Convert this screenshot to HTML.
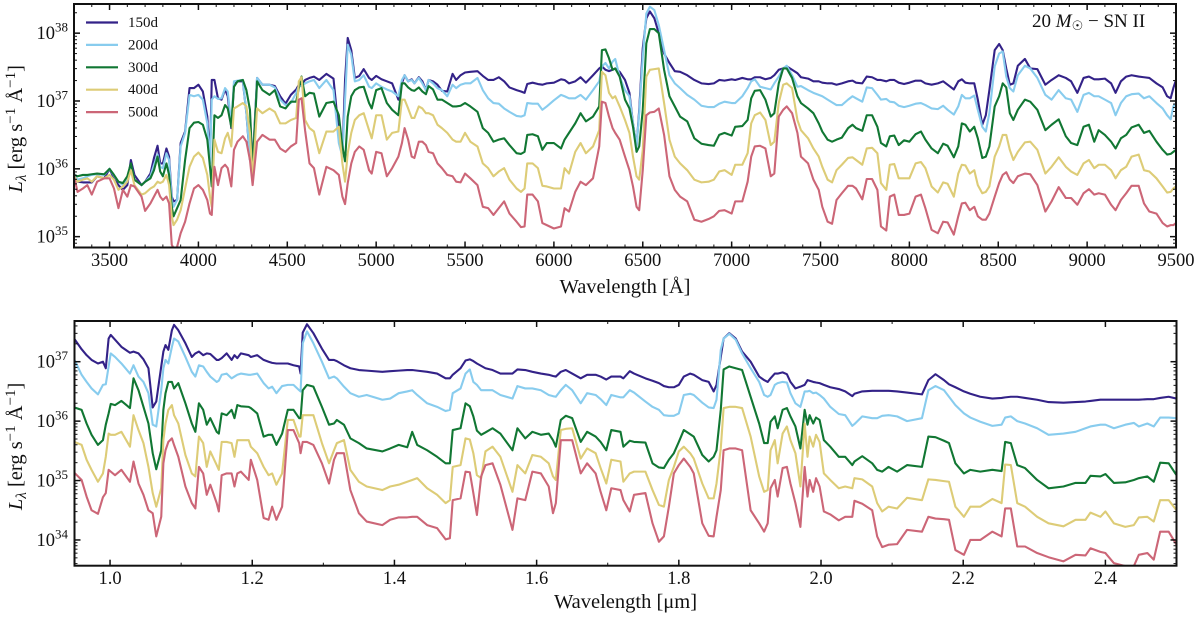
<!DOCTYPE html>
<html lang="en">
<head>
<meta charset="utf-8">
<title>20 Msun SN II spectra</title>
<style>
html,body{margin:0;padding:0;background:#fff;width:1200px;height:619px;overflow:hidden}
svg{display:block;font-family:"Liberation Serif","DejaVu Serif",serif;fill:#111}
</style>
</head>
<body>
<svg id="chart" xmlns="http://www.w3.org/2000/svg" width="1200" height="619" viewBox="0 0 1200 619">
<defs>
<clipPath id="clip-top"><rect x="74" y="4" width="1102" height="243.5"/></clipPath>
<clipPath id="clip-bottom"><rect x="74.5" y="321" width="1102" height="244.7"/></clipPath>
</defs>
</svg>
<script>
const seriesNames = ['150d','200d','300d','400d','500d'];
const seriesColors = ['#332288','#88CCEE','#117733','#DDCC77','#CC6677'];
const xTicksTop = [3500,4000,4500,5000,5500,6000,6500,7000,7500,8000,8500,9000,9500];
const xTicksBottom = [1.0,1.2,1.4,1.6,1.8,2.0,2.2,2.4];
const yDecadesTop = [35,36,37,38];
const yDecadesBottom = [34,35,36,37];

const waveTop = [
3300,3320,3350,3375,3400,3430,3470,3500,3525,3550,3575,3600,3620,3640,3680,3700,3730,3750,3770,3785,
3800,3820,3835,3850,3860,3880,3900,3925,3950,3975,4000,4025,4050,4065,4075,4090,4110,4130,4150,4165,
4185,4200,4220,4250,4270,4290,4305,4330,4360,4400,4430,4460,4490,4520,4550,4565,4580,4600,4625,4650,
4680,4720,4760,4790,4810,4825,4840,4860,4880,4905,4930,4960,4975,5000,5030,5060,5090,5125,5145,5160,
5180,5200,5215,5240,5260,5280,5295,5320,5345,5370,5400,5430,5450,5475,5500,5530,5570,5600,5630,5660,
5690,5720,5750,5790,5815,5835,5850,5880,5910,5935,5960,6000,6040,6060,6085,6120,6150,6180,6220,6255,
6270,6290,6310,6330,6345,6370,6400,6425,6445,6465,6480,6500,6520,6540,6565,6590,6620,6650,6680,6710,
6750,6790,6830,6870,6900,6930,6960,7000,7020,7060,7090,7110,7130,7160,7190,7220,7240,7265,7290,7310,
7340,7370,7390,7430,7460,7490,7510,7540,7565,7590,7620,7655,7680,7700,7735,7760,7790,7820,7840,7870,
7890,7915,7940,7970,8000,8035,8065,8090,8125,8160,8190,8215,8250,8275,8295,8315,8340,8365,8385,8410,
8430,8450,8480,8505,8525,8545,8565,8585,8610,8650,8680,8720,8765,8800,8840,8880,8910,8945,8980,9010,
9040,9065,9100,9135,9160,9190,9220,9250,9290,9320,9350,9390,9425,9450,9470,9485,9500];

const logTop150 = [
35.93,35.81,35.80,35.80,35.80,35.89,35.86,36.00,35.86,35.76,35.69,35.76,36.13,35.91,35.76,35.81,35.93,36.16,36.34,36.08,
36.08,36.30,36.18,35.59,35.52,35.54,36.38,36.55,37.19,37.19,37.24,37.14,36.77,36.13,37.31,37.31,37.04,37.02,37.17,37.07,
36.60,37.24,37.29,37.29,36.82,36.13,36.08,37.34,37.24,37.24,37.22,37.07,36.96,37.09,37.17,37.24,37.24,37.31,37.34,37.36,
37.31,37.40,37.33,36.53,36.18,37.31,37.93,37.75,37.34,37.37,37.47,37.34,37.31,37.37,37.32,37.29,37.26,37.02,37.26,37.38,
37.29,37.32,37.26,37.35,37.29,37.16,37.31,37.29,37.24,37.15,37.14,37.40,37.31,37.38,37.42,37.43,37.44,37.37,37.31,37.31,
37.35,37.29,37.20,37.16,37.14,37.12,37.25,37.27,37.25,37.24,37.26,37.27,37.32,37.31,37.26,37.29,37.35,37.27,37.38,37.48,
37.51,37.46,37.44,37.46,37.48,37.43,37.31,37.12,36.67,36.33,36.87,37.78,38.22,38.32,38.22,38.00,37.70,37.56,37.44,37.43,
37.38,37.31,37.26,37.25,37.26,37.31,37.30,37.32,37.31,37.34,37.32,37.32,37.35,37.35,37.32,37.34,37.38,37.46,37.48,37.51,
37.46,37.41,37.35,37.33,37.29,37.29,37.27,37.26,37.26,37.24,37.26,37.29,37.30,37.27,37.26,37.36,37.35,37.31,37.31,37.29,
37.31,37.31,37.27,37.25,37.27,37.30,37.30,37.26,37.24,37.26,37.29,37.24,37.17,37.29,37.32,37.27,37.26,37.26,37.02,36.65,
36.79,37.16,37.75,37.84,37.75,37.48,37.24,37.26,37.52,37.62,37.48,37.47,37.24,37.31,37.38,37.34,37.29,37.12,37.34,37.36,
37.32,37.32,37.33,37.26,37.12,37.29,37.36,37.38,37.36,37.35,37.34,37.26,37.20,37.07,37.04,37.19,37.31];

const logTop200 = [
35.91,35.84,35.86,35.89,35.91,35.92,35.91,36.00,35.90,35.81,35.76,35.84,36.06,35.84,35.76,35.81,35.89,36.06,36.21,36.03,
36.01,36.23,36.13,35.54,35.44,35.54,36.33,36.53,37.09,37.07,37.09,37.02,36.67,36.08,37.02,37.07,37.03,37.04,37.19,37.14,
36.65,37.29,37.30,37.31,36.82,36.18,35.98,37.34,37.24,37.24,37.20,37.02,36.94,36.97,37.12,37.22,37.22,37.26,37.29,37.31,
37.19,37.31,37.16,36.38,36.18,37.02,37.83,37.68,37.29,37.31,37.38,37.21,37.19,37.26,37.21,37.17,37.14,37.07,37.31,37.38,
37.29,37.31,37.26,37.34,37.26,37.16,37.31,37.26,37.19,37.16,37.07,37.24,37.19,37.24,37.26,37.26,37.34,37.16,37.04,36.97,
36.96,36.89,36.84,36.78,36.77,36.79,36.97,36.96,36.96,36.87,36.92,37.01,37.09,37.07,37.04,37.04,37.09,37.02,37.16,37.29,
37.51,37.56,37.48,37.58,37.62,37.36,37.16,37.07,36.67,36.33,36.82,37.65,38.29,38.39,38.34,38.12,37.75,37.38,37.26,37.19,
37.09,37.02,36.93,36.91,36.91,36.96,36.99,36.97,36.97,37.07,37.19,37.29,37.32,37.21,37.19,37.17,37.26,37.36,37.48,37.52,
37.38,37.21,37.22,37.16,37.12,37.09,37.07,37.02,36.98,36.94,36.94,37.02,37.07,37.04,36.99,37.20,37.19,37.09,37.02,37.03,
36.99,36.98,36.93,36.91,36.93,36.96,36.97,36.94,36.89,36.88,36.93,36.87,36.80,36.92,37.09,37.04,37.04,37.08,36.87,36.62,
36.55,36.82,37.51,37.70,37.73,37.36,37.19,37.14,37.38,37.52,37.48,37.34,37.09,37.02,37.16,37.04,37.02,36.84,37.09,37.12,
37.07,37.07,37.02,36.97,36.79,36.97,37.07,37.10,37.11,37.04,37.07,36.97,36.89,36.79,36.73,36.92,36.97];

const logTop300 = [
35.91,35.89,35.91,35.91,35.92,35.93,35.92,36.00,35.91,35.81,35.79,35.89,36.08,35.84,35.76,35.81,35.86,35.98,36.18,35.96,
35.89,36.08,35.91,35.44,35.30,35.42,35.54,36.13,36.60,36.68,36.69,36.65,36.43,36.03,35.74,36.79,36.75,36.79,36.94,36.89,
36.62,37.21,37.29,37.31,37.16,36.87,35.98,37.29,37.16,37.09,37.16,36.92,36.89,36.99,36.99,37.19,37.36,37.07,37.12,37.11,
36.77,36.97,36.99,36.79,36.33,36.11,36.77,37.07,37.16,37.20,37.21,36.97,36.89,37.16,37.19,36.97,36.87,36.79,37.26,37.26,
37.20,37.16,37.15,37.20,37.14,37.10,37.22,37.17,37.02,37.02,36.97,36.92,36.92,36.93,36.97,36.92,36.84,36.60,36.53,36.40,
36.43,36.45,36.35,36.23,36.22,36.25,36.50,36.51,36.48,36.28,36.38,36.38,36.30,36.43,36.53,36.67,36.82,36.70,36.77,36.92,
37.75,37.76,37.63,37.46,37.48,37.36,37.02,36.89,36.62,36.25,36.33,36.87,37.85,38.06,38.06,38.00,37.46,37.07,36.92,36.77,
36.70,36.45,36.37,36.35,36.34,36.50,36.53,36.49,36.62,36.63,36.72,37.04,37.15,37.16,37.02,36.77,36.82,37.26,37.48,37.48,
37.34,37.07,36.97,36.89,36.82,36.67,36.55,36.43,36.40,36.43,36.46,36.60,36.65,36.60,36.56,36.79,36.79,36.62,36.38,36.33,
36.48,36.49,36.35,36.42,36.40,36.51,36.55,36.43,36.30,36.23,36.37,36.34,36.17,36.33,36.67,36.65,36.55,36.62,36.45,36.16,
36.18,36.33,36.92,37.07,37.26,37.20,36.82,36.72,36.87,37.02,36.99,36.87,36.57,36.65,36.73,36.48,36.38,36.35,36.62,36.65,
36.40,36.57,36.50,36.40,36.30,36.45,36.50,36.61,36.65,36.53,36.56,36.40,36.28,36.21,36.22,36.25,36.28];

const logTop400 = [
35.89,35.81,35.84,35.86,35.81,35.89,35.86,35.91,35.84,35.69,35.74,35.81,35.98,35.76,35.62,35.64,35.71,35.74,35.81,35.79,
35.81,35.91,35.76,35.30,35.17,35.25,35.39,35.71,36.03,36.18,36.24,36.16,35.91,35.59,35.44,36.43,36.25,36.23,36.45,36.53,
36.33,36.89,36.92,36.97,36.92,36.53,35.84,36.89,36.82,36.89,36.84,36.67,36.67,36.72,36.75,37.29,37.35,36.72,36.60,36.55,
36.23,36.55,36.55,36.62,36.08,35.81,36.23,36.53,36.72,36.79,36.82,36.57,36.45,36.79,36.79,36.43,36.53,36.55,37.02,37.02,
36.89,36.75,36.75,36.92,36.89,36.82,36.82,36.79,36.65,36.60,36.53,36.43,36.40,36.40,36.53,36.40,36.33,36.08,36.01,35.89,
35.96,36.01,35.84,35.71,35.66,35.71,36.08,36.08,36.01,35.75,35.74,35.71,35.71,36.01,35.93,36.25,36.38,36.23,36.33,36.57,
37.43,37.38,37.12,37.04,37.07,36.92,36.72,36.53,36.18,35.89,35.84,36.28,37.36,37.46,37.47,37.48,36.97,36.43,36.18,36.08,
35.98,35.84,35.80,35.81,35.84,35.96,35.98,35.91,36.06,36.06,36.23,36.67,36.79,36.83,36.72,36.35,36.40,36.97,37.24,37.26,
37.19,36.72,36.57,36.45,36.30,36.18,36.03,35.84,35.80,35.98,36.06,36.16,36.17,36.13,36.06,36.30,36.31,36.23,35.79,35.69,
36.06,36.07,35.86,35.86,35.86,36.08,36.10,36.01,35.74,35.65,35.80,35.78,35.59,35.93,36.06,36.05,35.93,35.98,35.76,35.64,
35.66,35.74,36.18,36.33,36.50,36.50,36.28,36.13,36.25,36.39,36.40,36.28,35.93,36.03,36.17,36.03,35.96,35.91,36.08,36.13,
36.01,36.06,36.06,35.98,35.86,35.98,36.03,36.18,36.21,35.98,35.96,35.86,35.74,35.65,35.66,35.71,35.74];

const logTop500 = [
35.89,35.66,35.71,35.76,35.62,35.81,35.86,35.86,35.71,35.42,35.69,35.59,35.76,35.74,35.59,35.38,35.49,35.59,35.69,35.59,
35.54,35.59,35.49,34.88,34.83,34.85,35.05,35.22,35.49,35.71,35.76,35.69,35.54,35.34,35.32,36.03,35.76,36.01,36.06,36.01,
35.74,36.28,36.40,36.48,36.40,36.13,35.76,36.40,36.50,36.43,36.43,36.30,36.25,36.33,36.38,37.02,37.04,36.57,36.08,36.01,
35.62,36.03,35.98,35.91,35.59,35.48,35.79,36.08,36.25,36.33,36.28,35.98,35.93,36.25,36.23,35.89,36.01,36.18,36.38,36.60,
36.43,36.18,36.16,36.40,36.40,36.35,36.25,36.23,36.08,36.01,35.91,35.89,35.81,35.80,35.93,35.86,35.76,35.44,35.42,35.32,
35.42,35.52,35.34,35.22,35.14,35.15,35.62,35.62,35.52,35.20,35.17,35.12,35.15,35.42,35.37,35.66,35.81,35.76,35.86,36.33,
36.99,36.97,36.77,36.60,36.53,36.43,36.18,35.98,35.74,35.44,35.39,35.98,36.79,36.83,36.84,36.89,36.50,35.89,35.69,35.59,
35.52,35.25,35.22,35.26,35.30,35.38,35.39,35.34,35.52,35.52,35.81,36.18,36.33,36.34,36.30,35.89,35.93,36.77,36.87,36.92,
36.82,36.53,36.18,36.08,35.84,35.69,35.44,35.22,35.19,35.54,35.64,35.75,35.75,35.71,35.55,35.85,35.85,35.69,35.15,35.09,
35.59,35.62,35.32,35.32,35.34,35.59,35.62,35.42,35.10,35.05,35.22,35.21,35.03,35.30,35.49,35.50,35.39,35.44,35.30,35.25,
35.25,35.34,35.59,35.79,35.91,35.95,35.84,35.79,35.89,35.93,35.92,35.76,35.37,35.52,35.73,35.57,35.57,35.47,35.64,35.70,
35.62,35.64,35.62,35.47,35.39,35.54,35.64,35.75,35.75,35.49,35.37,35.34,35.20,35.15,35.17,35.17,35.20];

const waveBottom = [
0.950,0.960,0.967,0.974,0.983,0.990,0.994,0.998,1.001,1.007,1.016,1.028,1.033,1.040,1.047,1.054,1.060,1.065,1.072,1.075,
1.078,1.082,1.087,1.090,1.096,1.106,1.115,1.120,1.125,1.131,1.136,1.141,1.150,1.153,1.157,1.164,1.171,1.175,1.179,1.184,
1.195,1.198,1.207,1.216,1.223,1.228,1.234,1.242,1.250,1.258,1.266,1.268,1.271,1.277,1.286,1.298,1.308,1.315,1.319,1.329,
1.338,1.350,1.361,1.383,1.394,1.406,1.418,1.425,1.432,1.446,1.460,1.472,1.478,1.482,1.493,1.500,1.506,1.511,1.516,1.522,
1.528,1.538,1.549,1.566,1.573,1.584,1.594,1.606,1.617,1.623,1.627,1.634,1.641,1.650,1.662,1.671,1.683,1.690,1.698,1.705,
1.718,1.722,1.731,1.737,1.753,1.763,1.772,1.779,1.786,1.793,1.800,1.807,1.816,1.821,1.833,1.842,1.849,1.853,1.859,1.863,
1.871,1.880,1.889,1.901,1.913,1.920,1.925,1.929,1.935,1.939,1.946,1.952,1.957,1.964,1.971,1.977,1.981,1.984,1.989,1.993,
1.998,2.004,2.013,2.025,2.034,2.044,2.047,2.058,2.072,2.079,2.086,2.095,2.107,2.121,2.142,2.151,2.161,2.173,2.180,2.189,
2.201,2.210,2.224,2.241,2.254,2.259,2.267,2.276,2.287,2.304,2.320,2.341,2.358,2.372,2.379,2.393,2.400,2.412,2.428,2.440,
2.447,2.459,2.468,2.477,2.489,2.500];

const logBottom150 = [
37.38,37.21,37.11,37.03,36.97,37.00,36.89,37.39,37.45,37.37,37.25,37.15,37.17,37.14,37.04,36.89,36.23,36.33,36.92,37.17,
37.28,37.20,37.53,37.62,37.53,37.31,37.08,37.14,37.17,37.11,37.14,37.13,37.03,37.03,37.06,37.14,37.03,37.11,37.06,37.14,
37.11,37.08,37.11,37.03,37.00,36.98,36.97,36.97,36.97,36.94,36.92,36.80,37.49,37.63,37.48,37.22,37.03,37.03,37.01,36.94,
36.89,36.86,36.85,36.83,36.84,36.85,36.86,36.86,36.85,36.83,36.80,36.72,36.72,36.78,36.89,37.02,37.04,37.01,36.97,36.93,
36.89,36.86,36.80,36.80,36.87,36.86,36.83,36.80,36.78,36.76,36.75,36.83,36.86,36.80,36.72,36.78,36.78,36.75,36.70,36.75,
36.75,36.72,36.84,36.80,36.72,36.68,36.64,36.59,36.57,36.57,36.61,36.75,36.80,36.78,36.69,36.66,36.50,36.61,37.08,37.39,
37.48,37.39,37.17,37.00,36.75,36.69,36.66,36.72,36.80,36.80,36.82,36.79,36.66,36.55,36.58,36.61,36.69,36.68,36.66,36.65,
36.64,36.61,36.57,36.54,36.50,36.42,36.46,36.50,36.51,36.51,36.51,36.51,36.50,36.48,36.45,36.69,36.79,36.69,36.62,36.57,
36.50,36.46,36.41,36.38,36.39,36.40,36.41,36.41,36.39,36.36,36.32,36.31,36.32,36.33,36.34,36.36,36.36,36.36,36.36,36.36,
36.36,36.37,36.37,36.39,36.41,36.38];

const logBottom200 = [
37.03,36.78,36.66,36.55,36.45,36.61,36.62,36.92,37.14,37.08,36.97,36.80,36.94,36.75,36.66,36.47,35.94,35.91,36.52,36.89,
37.03,36.97,37.25,37.39,37.34,37.08,36.83,36.75,36.94,36.92,36.83,36.75,36.66,36.68,36.78,36.80,36.72,36.75,36.78,36.80,
36.78,36.78,36.80,36.64,36.55,36.58,36.47,36.59,36.61,36.61,36.52,36.50,37.31,37.51,37.31,37.00,36.72,36.75,36.72,36.58,
36.47,36.41,36.44,36.36,36.38,36.47,36.50,36.52,36.44,36.30,36.24,36.17,36.19,36.47,36.55,36.80,36.87,36.66,36.61,36.52,
36.52,36.52,36.44,36.38,36.59,36.55,36.55,36.52,36.44,36.42,36.41,36.52,36.61,36.52,36.30,36.47,36.44,36.37,36.27,36.44,
36.40,36.40,36.52,36.48,36.33,36.24,36.19,36.10,36.09,36.09,36.13,36.44,36.46,36.44,36.31,36.23,36.22,36.36,37.20,37.39,
37.47,37.37,37.14,36.89,36.66,36.44,36.41,36.44,36.61,36.64,36.66,36.65,36.47,36.30,36.24,36.50,36.50,36.51,36.47,36.48,
36.44,36.38,36.24,36.12,36.10,35.92,35.95,36.08,36.05,36.05,36.09,36.10,36.08,36.00,36.05,36.52,36.59,36.52,36.41,36.27,
36.13,36.06,35.99,35.92,35.94,36.06,36.08,36.00,35.96,35.88,35.77,35.79,35.82,35.88,35.91,35.94,35.94,35.88,35.94,35.97,
35.91,35.96,35.91,36.06,36.06,36.05];

const logBottom300 = [
36.23,36.19,35.96,35.77,35.60,35.68,35.94,36.13,36.29,36.27,36.34,36.22,36.72,36.52,36.24,35.96,35.46,35.19,35.51,36.19,
36.47,36.66,36.66,36.55,36.64,36.30,35.96,35.82,36.30,36.19,35.94,36.05,35.82,35.79,36.13,36.10,36.19,36.05,36.27,36.25,
36.24,36.22,36.13,35.74,35.77,35.77,35.60,35.79,36.19,36.19,36.05,36.05,36.52,36.61,36.58,36.24,35.94,35.96,36.02,35.94,
35.71,35.63,35.54,35.49,35.54,35.60,35.56,35.82,35.60,35.51,35.40,35.29,35.29,35.85,35.88,36.30,36.25,36.08,35.84,35.77,
35.81,35.88,35.79,35.51,35.88,35.71,35.82,35.77,35.79,35.68,35.57,36.02,36.09,36.05,35.65,35.82,35.74,35.65,35.51,35.85,
35.82,35.57,35.67,35.65,35.64,35.29,35.22,35.21,35.35,35.46,35.65,35.85,35.78,35.74,35.43,35.32,35.40,35.51,36.19,36.87,
36.92,36.89,36.86,36.41,35.96,35.63,35.63,35.99,36.08,35.88,36.19,36.22,36.08,35.91,35.54,36.19,35.94,36.10,35.96,36.06,
36.02,35.68,35.57,35.40,35.40,35.26,35.32,35.41,35.29,35.18,35.15,35.23,35.15,35.26,35.23,35.74,35.73,35.67,35.63,35.29,
35.12,35.18,35.15,35.18,35.16,35.65,35.63,35.26,35.21,35.01,34.87,34.90,34.96,34.96,35.08,35.07,35.11,34.96,34.97,35.01,
35.04,35.07,34.98,35.30,35.29,35.09];

const logBottom400 = [
35.65,35.60,35.35,35.18,34.98,35.12,35.40,35.79,35.77,35.77,35.82,35.57,36.10,35.85,35.63,35.23,34.79,34.56,34.87,35.68,
35.96,36.19,36.27,36.10,35.96,35.43,35.12,35.07,35.74,35.63,35.23,35.49,35.26,35.18,35.65,35.65,35.63,35.40,35.68,35.68,
35.68,35.57,35.46,35.23,35.09,35.12,34.93,35.12,36.02,36.02,35.74,35.74,36.10,36.10,36.10,35.63,35.29,35.51,35.63,35.68,
35.18,34.98,34.90,34.84,34.90,34.93,34.98,35.01,35.04,34.87,34.76,34.62,34.67,35.23,35.26,35.71,35.69,35.46,35.09,35.04,
35.49,35.57,35.40,34.81,35.26,35.12,35.43,35.40,35.29,35.07,35.01,35.85,35.87,35.88,35.37,35.54,35.46,35.21,34.95,35.35,
35.32,34.98,35.12,35.15,35.15,34.84,34.59,34.56,35.01,35.23,35.49,35.57,35.46,35.37,34.95,34.70,34.70,34.95,35.54,36.22,
36.24,36.24,36.22,35.74,35.07,34.81,34.84,35.51,35.68,35.29,35.79,35.91,35.68,35.46,34.90,35.96,35.40,35.74,35.57,35.77,
35.65,35.12,35.01,34.87,34.90,34.87,35.04,35.02,34.90,34.62,34.48,34.56,34.53,34.71,34.67,35.02,35.01,34.99,34.98,34.56,
34.39,34.56,34.56,34.69,34.62,35.27,35.26,34.62,34.56,34.39,34.28,34.23,34.34,34.34,34.46,34.39,34.48,34.28,34.22,34.25,
34.38,34.39,34.31,34.67,34.67,34.50];

const logBottom500 = [
35.13,35.01,34.73,34.50,34.44,34.72,34.79,35.18,35.15,35.09,35.18,34.98,35.32,34.95,34.76,34.50,34.45,34.06,34.39,35.29,
35.51,35.65,35.71,35.60,35.40,34.90,34.62,34.53,35.23,35.12,34.76,34.93,34.62,34.48,35.09,35.12,35.12,34.90,35.12,35.15,
35.01,35.35,35.01,34.37,34.34,34.56,34.34,34.56,35.85,35.85,35.63,35.46,35.65,35.65,35.60,35.29,34.95,35.35,35.46,35.46,
34.84,34.45,34.31,34.25,34.34,34.38,34.38,34.39,34.39,34.25,34.20,34.01,34.03,34.67,34.70,35.15,35.14,34.79,34.42,35.07,
35.26,35.29,34.93,34.17,34.70,34.67,35.15,35.12,34.90,34.45,34.62,35.68,35.68,35.68,35.12,35.29,35.12,34.81,34.50,34.87,
34.84,34.67,34.48,34.76,34.79,34.28,33.97,34.06,34.56,35.12,35.26,35.37,35.23,35.12,34.28,34.07,34.06,34.39,34.84,35.51,
35.54,35.54,35.51,34.50,34.28,34.14,34.28,34.87,35.01,34.73,35.21,35.23,34.95,34.62,34.22,35.23,34.73,35.01,34.81,35.04,
34.90,34.48,34.43,34.33,34.39,34.39,34.66,34.61,34.50,34.06,33.88,33.92,33.93,34.17,34.14,34.39,34.36,34.35,34.34,33.83,
33.75,34.00,34.00,34.14,34.06,34.53,34.53,33.89,33.89,33.78,33.71,33.64,33.75,33.74,33.86,33.80,33.78,33.61,33.56,33.56,
33.75,33.78,33.67,34.14,34.14,33.92];

const topSeries = [logTop150,logTop200,logTop300,logTop400,logTop500];
const bottomSeries = [logBottom150,logBottom200,logBottom300,logBottom400,logBottom500];

const NS = 'http://www.w3.org/2000/svg';
const svg = document.getElementById('chart');

function scale(d0, d1, r0, r1) {
  return v => r0 + (v - d0) / (d1 - d0) * (r1 - r0);
}

function seg(x1, y1, x2, y2, w, name) {
  const el = document.createElementNS(NS, 'line');
  el.setAttribute('x1', x1); el.setAttribute('y1', y1);
  el.setAttribute('x2', x2); el.setAttribute('y2', y2);
  el.setAttribute('stroke', '#111');
  el.setAttribute('stroke-width', w);
  
  
  svg.appendChild(el);
  return el;
}

function label(x, y, str, size, anchor, name) {
  const el = document.createElementNS(NS, 'text');
  el.setAttribute('x', x); el.setAttribute('y', y);
  el.setAttribute('font-size', size);
  el.setAttribute('text-anchor', anchor);
  el.textContent = str;
  
  
  svg.appendChild(el);
  return el;
}

function span(parent, str, opts) {
  const t = document.createElementNS(NS, 'tspan');
  t.textContent = str;
  if (opts.dy) t.setAttribute('dy', opts.dy);
  if (opts.size) t.setAttribute('font-size', opts.size);
  if (opts.italic) t.setAttribute('font-style', 'italic');
  parent.appendChild(t);
  return t;
}

function drawPanel(p) {
  const sx = scale(p.xMin, p.xMax, p.left, p.right);
  const sy = scale(p.yMin, p.yMax, p.bottom, p.top);

  p.series.forEach((vals, i) => {
    const n = Math.min(vals.length, p.wave.length);
    let d = '';
    for (let k = 0; k < n; k++) {
      d += (k ? 'L' : 'M') + sx(p.wave[k]).toFixed(2) + ' ' + sy(vals[k]).toFixed(2);
    }
    const path = document.createElementNS(NS, 'path');
    path.setAttribute('d', d);
    path.setAttribute('fill', 'none');
    path.setAttribute('stroke', seriesColors[i]);
    path.setAttribute('stroke-width', '2.1');
    path.setAttribute('stroke-linejoin', 'round');
    path.setAttribute('clip-path', 'url(#' + p.clip + ')');
    
    
    svg.appendChild(path);
  });

  const frame = document.createElementNS(NS, 'rect');
  frame.setAttribute('x', p.left); frame.setAttribute('y', p.top);
  frame.setAttribute('width', p.right - p.left); frame.setAttribute('height', p.bottom - p.top);
  frame.setAttribute('fill', 'none');
  frame.setAttribute('stroke', '#111');
  frame.setAttribute('stroke-width', '2');
  
  
  svg.appendChild(frame);

  p.xTicks.forEach(t => {
    const x = sx(t);
    seg(x, p.bottom, x, p.bottom - 6, 1.5, p.id + '-x-major-tick');
    seg(x, p.top, x, p.top + 6, 1.5, p.id + '-x-major-tick');
    label(x, p.xLabelY, p.xFmt(t), 18.5, 'middle', p.id + '-x-tick-label');
  });
  for (let m = p.xMinorStart; m <= p.xMax + 1e-9; m += p.xMinorStep) {
    const x = sx(m);
    seg(x, p.bottom, x, p.bottom - 3, 1, p.id + '-x-minor-tick');
    seg(x, p.top, x, p.top + 3, 1, p.id + '-x-minor-tick');
  }

  p.yDecades.forEach(dec => {
    const y = sy(dec);
    seg(p.left, y, p.left + 6, y, 1.5, p.id + '-y-major-tick');
    seg(p.right, y, p.right - 6, y, 1.5, p.id + '-y-major-tick');
    const t = label(68, y + 6, '', 18.5, 'end', p.id + '-y-tick-label');
    span(t, '10', {});
    span(t, String(dec), { dy: -7.5, size: 13 });
  });
  for (let dec = Math.floor(p.yMin); dec < p.yMax; dec++) {
    for (let m = 2; m < 10; m++) {
      const v = dec + Math.log10(m);
      if (v < p.yMin || v > p.yMax) continue;
      const y = sy(v);
      seg(p.left, y, p.left + 3, y, 1, p.id + '-y-minor-tick');
      seg(p.right, y, p.right - 3, y, 1, p.id + '-y-minor-tick');
    }
  }

  label((p.left + p.right) / 2, p.xTitleY, p.xTitle, 20.5, 'middle', p.id + '-x-axis-title');

  const cy = (p.top + p.bottom) / 2 + 3;
  const yt = label(22, cy, '', 20.5, 'middle', p.id + '-y-axis-title');
  yt.setAttribute('transform', 'rotate(-90 22 ' + cy + ')');
  span(yt, 'L', { italic: true });
  span(yt, 'λ', { dy: 4, size: 15, italic: true });
  span(yt, ' [erg s', { dy: -4 });
  span(yt, '−1', { dy: -7, size: 15 });
  span(yt, ' Å', { dy: 7 });
  span(yt, '−1', { dy: -7, size: 15 });
  span(yt, ']', { dy: 7 });
}

drawPanel({
  id: 'top-panel', clip: 'clip-top', wave: waveTop, series: topSeries,
  left: 74, right: 1176, top: 4, bottom: 247.5,
  xMin: 3300, xMax: 9500, yMin: 34.84, yMax: 38.43,
  xTicks: xTicksTop, xFmt: t => String(t), xMinorStart: 3300, xMinorStep: 100,
  yDecades: yDecadesTop, xLabelY: 266, xTitleY: 293, xTitle: 'Wavelength [Å]'
});

drawPanel({
  id: 'bottom-panel', clip: 'clip-bottom', wave: waveBottom, series: bottomSeries,
  left: 74.5, right: 1176.5, top: 321, bottom: 565.7,
  xMin: 0.95, xMax: 2.5, yMin: 33.567, yMax: 37.685,
  xTicks: xTicksBottom, xFmt: t => t.toFixed(1), xMinorStart: 1.1, xMinorStep: 0.2,
  yDecades: yDecadesBottom, xLabelY: 584, xTitleY: 608, xTitle: 'Wavelength [μm]'
});

seriesNames.forEach((name, i) => {
  const y = 22.5 + i * 22.4;
  const ln = seg(86, y, 118, y, 2.2, 'legend-line-' + name);
  ln.setAttribute('stroke', seriesColors[i]);
  label(128, y + 4.5, name, 15, 'start', 'legend-label-' + name);
});

const title = label(1032, 27, '', 19, 'start', 'panel-title');
span(title, '20 ', {});
span(title, 'M', { italic: true });
span(title, '☉', { dy: 3, size: 13 });
span(title, ' − SN II', { dy: -3 });
</script>
</body>
</html>
